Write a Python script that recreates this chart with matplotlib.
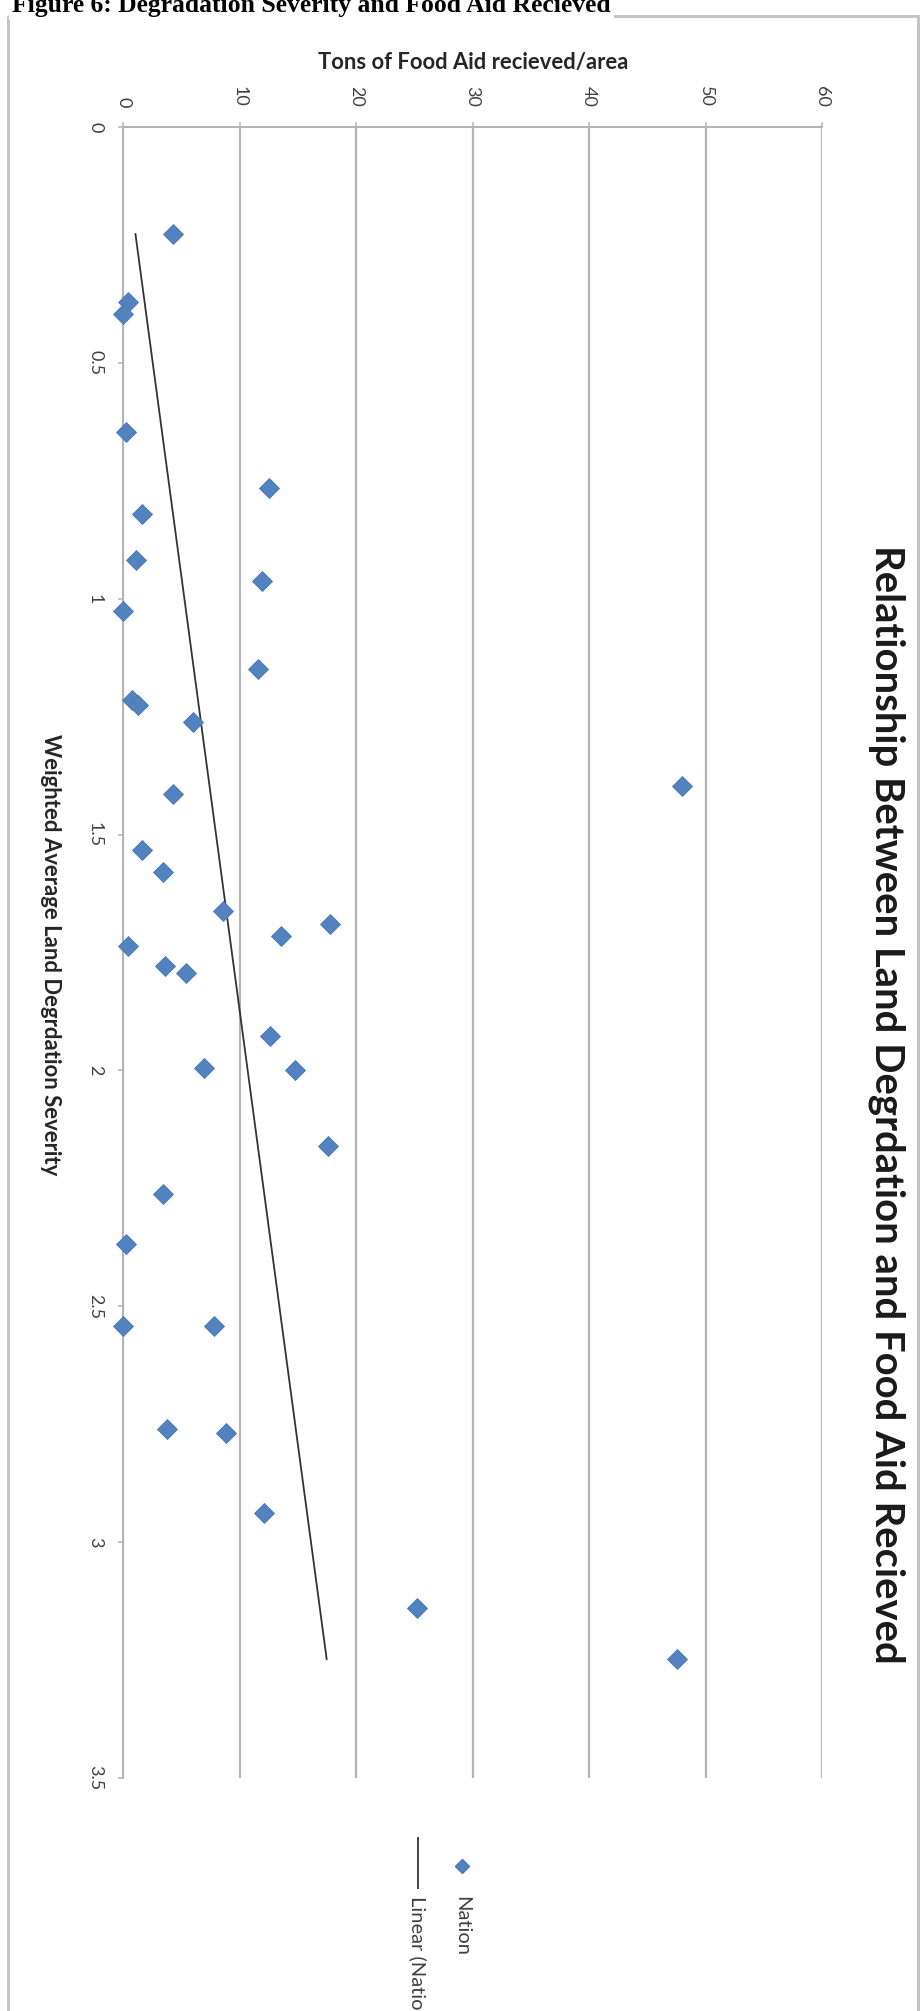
import numpy as np
import matplotlib
matplotlib.use("Agg")
import matplotlib.pyplot as plt
from matplotlib.lines import Line2D
from matplotlib.patches import Rectangle

severity = [0.227, 0.370, 0.396, 0.646, 0.766, 0.820, 0.917, 0.962, 1.027, 1.150,
            1.215, 1.225, 1.261, 1.397, 1.413, 1.533, 1.579, 1.663, 1.690, 1.716,
            1.736, 1.779, 1.793, 1.927, 1.995, 1.999, 2.160, 2.263, 2.368, 2.542,
            2.542, 2.761, 2.768, 2.939, 3.139, 3.248]
food_aid = [4.32, 0.46, 0.03, 0.23, 12.57, 1.60, 1.12, 11.90, 0.03, 11.57,
            0.74, 1.32, 6.04, 48.0, 4.32, 1.60, 3.47, 8.56, 17.80, 13.55,
            0.46, 3.61, 5.41, 12.63, 6.96, 14.78, 17.58, 3.47, 0.23, 0.03,
            7.82, 3.75, 8.82, 12.14, 25.23, 47.57]
food_ticks = [0, 10, 20, 30, 40, 50, 60]
sev_ticks = [0, 0.5, 1, 1.5, 2, 2.5, 3, 3.5]
sev_labels = ["0", "0.5", "1", "1.5", "2", "2.5", "3", "3.5"]

W, H, DPI = 923, 2011, 100
fig = plt.figure(figsize=(W / DPI, H / DPI), dpi=DPI, facecolor="white")
PT = 72 / DPI   # points per pixel

def box(x0, y0, x1, y1):
    return [x0 / W, 1 - y1 / H, (x1 - x0) / W, (y1 - y0) / H]

# overlay in pixel coordinates for frame, titles and legend
ov = fig.add_axes([0, 0, 1, 1], zorder=3)
ov.set_xlim(0, W)
ov.set_ylim(H, 0)
ov.axis("off")
ov.patch.set_alpha(0)

ax = fig.add_axes(box(123, 127, 822, 1778), zorder=2)
ax.set_xlim(0, 60)
ax.set_ylim(3.5, 0)
ax.patch.set_alpha(0)

grid_c = "#B4B4B4"
for s in ["right", "bottom"]:
    ax.spines[s].set_visible(False)
for s in ["left", "top"]:
    ax.spines[s].set_color(grid_c)
    ax.spines[s].set_linewidth(2 * PT)
ax.xaxis.tick_top()
ax.set_xticks(food_ticks)
ax.set_xticklabels([str(v) for v in food_ticks], rotation=-90)
ax.set_yticks(sev_ticks)
ax.set_yticklabels(sev_labels, rotation=-90, va="center")
ax.tick_params(axis="both", direction="out", length=5 * PT, width=1.5 * PT,
               color=grid_c, pad=15 * PT, labelsize=13, labelcolor="#404040")
for lab in ax.get_xticklabels() + ax.get_yticklabels():
    lab.set_family("Lato")
ax.xaxis.grid(True, color=grid_c, linewidth=2.2 * PT)
ax.yaxis.grid(False)
ax.set_axisbelow(True)

coef = np.polyfit(severity, food_aid, 1)
xs = np.array([min(severity), max(severity)])
ax.plot(np.polyval(coef, xs), xs, color="#333333", lw=1.8 * PT, zorder=3)
ax.plot(food_aid, severity, "D", ms=10, mfc="#5283C0", mec="#4A78B0",
        mew=0.6, zorder=4, clip_on=False)

# chart frame
ov.add_patch(Rectangle((8, 16), 910, 2200, fill=False, ec="#C4C4C4", lw=3 * PT))

renderer = fig.canvas.get_renderer()

def fit(t, length, vertical):
    bb = t.get_window_extent(renderer)
    cur = bb.height if vertical else bb.width
    t.set_fontsize(t.get_fontsize() * length / cur)

head = ov.text(12, 12, "Figure 6: Degradation Severity and Food Aid Recieved",
               ha="left", va="baseline", family="Liberation Serif",
               weight="bold", fontsize=16, color="black",
               bbox=dict(fc="white", ec="none", pad=2))
fit(head, 600, False)

t1 = ov.text(473, 62, "Tons of Food Aid recieved/area", ha="center", va="center",
             family="Lato", weight="bold", fontsize=12, color="#262626")
fit(t1, 308, False)

t2 = ov.text(50, 955, "Weighted Average Land Degrdation Severity", ha="center",
             va="center", rotation=-90, family="Lato", weight="bold",
             fontsize=12, color="#262626")
fit(t2, 440, True)

t3 = ov.text(887, 1104, "Relationship Between Land Degrdation and Food Aid Recieved",
             ha="center", va="center", rotation=-90, family="Lato",
             weight="bold", fontsize=24, color="#1A1A1A")
fit(t3, 1118, True)

# legend (rotated like the rest of the chart)
ov.add_line(Line2D([462], [1866], marker="D", ms=7.5, mfc="#5283C0",
                   mec="#4A78B0", ls="none"))
ov.add_line(Line2D([418, 418], [1838, 1888], color="#333333", lw=1.8 * PT))
ov.text(462, 1896, "Nation", ha="center", va="top", rotation=-90,
        family="Lato", fontsize=14.5, color="#404040")
ov.text(418, 1896, "Linear (Nation)", ha="center", va="top", rotation=-90,
        family="Lato", fontsize=14.5, color="#404040")

fig.savefig("out.png", dpi=DPI, facecolor="white")
